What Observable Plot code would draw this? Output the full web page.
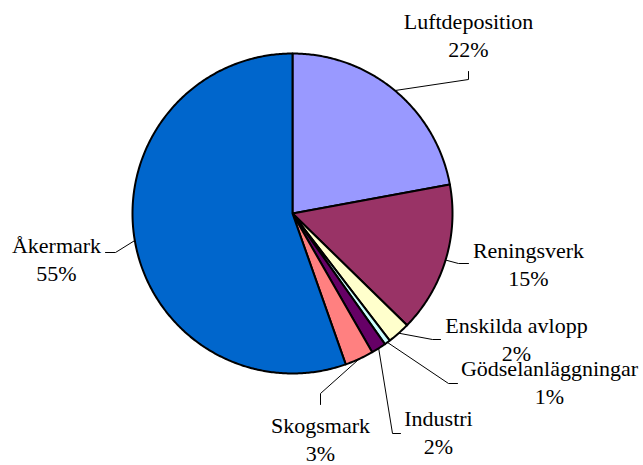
<!DOCTYPE html>
<html>
<head>
<meta charset="utf-8">
<script src="https://cdn.jsdelivr.net/npm/d3@7"></script>
<script src="https://cdn.jsdelivr.net/npm/@observablehq/plot@0.6"></script>
<style>
  html, body { margin: 0; padding: 0; background: #fff; font-family: "Liberation Serif", serif; }
  #chart svg { display: block; }
</style>
</head>
<body>
<div id="chart"></div>
<script>
// ---- data ----
const categories = ["Luftdeposition", "Reningsverk", "Enskilda avlopp", "Gödselanläggningar", "Industri", "Skogsmark", "Åkermark"];
const shares = [22.1, 15.2, 2.3, 0.6, 1.5, 2.9, 55.4];
const percentLabels = ["22%", "15%", "2%", "1%", "2%", "3%", "55%"];
const sliceColors = ["#9999FF", "#993366", "#FFFFCC", "#CCFFFF", "#660066", "#FF8080", "#0066CC"];

// ---- layout (pixels) ----
const W = 643, H = 465;
const CX = 292, CY = 213, R = 160;
const FONT = 22;
// label centre x, first-line baseline y, leader elbow, leader end
const labelLayout = [
  {x: 468, y: 28,  elbow: [468, 79],  end: [468, 71]},
  {x: 528, y: 257, elbow: [458, 263], end: [468, 263]},
  {x: 516, y: 332, elbow: [432, 339], end: [440, 339]},
  {x: 549, y: 375, elbow: [448, 383], end: [457, 383]},
  {x: 438, y: 425, elbow: [392, 433], end: [400, 433]},
  {x: 320, y: 432, elbow: [320, 393], end: [320, 404]},
  {x: 56,  y: 252, elbow: [115, 252], end: [105, 252]}
];
const LINE_GAP = 28.5;

const rows = categories.map((name, i) => ({name, value: shares[i], pct: percentLabels[i]}));
const arcs = d3.pie().sort(null).value(d => d.value)(rows);

const pt = (a, r) => [CX + r * Math.sin(a), CY - r * Math.cos(a)];

// slice polygons
const polys = [];
arcs.forEach(a => {
  const n = Math.max(4, Math.ceil((a.endAngle - a.startAngle) / 0.01));
  polys.push({name: a.data.name, x: CX, y: CY});
  for (let k = 0; k <= n; k++) {
    const ang = a.startAngle + (a.endAngle - a.startAngle) * k / n;
    const [x, y] = pt(ang, R);
    polys.push({name: a.data.name, x, y});
  }
  polys.push({name: a.data.name, x: CX, y: CY});
});

// leader lines
const leaders = [];
arcs.forEach((a, i) => {
  const mid = (a.startAngle + a.endAngle) / 2;
  const [mx, my] = pt(mid, R);
  const L = labelLayout[i];
  leaders.push({name: a.data.name, x: mx, y: my});
  leaders.push({name: a.data.name, x: L.elbow[0], y: L.elbow[1]});
  leaders.push({name: a.data.name, x: L.end[0], y: L.end[1]});
});

// labels: one row per text line; y = first-line baseline (shifted to centre for middle anchor)
const nameLabels = rows.map((d, i) => ({text: d.name, x: labelLayout[i].x, y: labelLayout[i].y - 0.32 * FONT}));
const pctLabels = rows.map((d, i) => ({text: d.pct, x: labelLayout[i].x, y: labelLayout[i].y + LINE_GAP - 0.32 * FONT}));

const textOpts = {x: "x", y: "y", text: "text", fontSize: FONT, fontFamily: "Liberation Serif", fill: "#000",
  textAnchor: "middle", lineAnchor: "middle"};

const chart = Plot.plot({
  width: W,
  height: H,
  margin: 0,
  x: {domain: [0, W], range: [0, W], axis: null},
  y: {domain: [0, H], range: [0, H], axis: null},
  color: {domain: categories, range: sliceColors},
  style: {background: "#fff"},
  marks: [
    Plot.line(leaders, {x: "x", y: "y", z: "name", stroke: "#000", strokeWidth: 1, curve: "linear"}),
    Plot.line(polys, {x: "x", y: "y", z: "name", fill: "name", stroke: "#000", strokeWidth: 2, strokeLinejoin: "round", curve: "linear"}),
    Plot.text(nameLabels, textOpts),
    Plot.text(pctLabels, textOpts)
  ]
});
chart.setAttribute("font-family", "Liberation Serif");
chart.querySelectorAll("text").forEach(t => {
  t.setAttribute("font-family", "Liberation Serif");
  t.style.fontFamily = "Liberation Serif";
});
document.getElementById("chart").appendChild(chart);
</script>
</body>
</html>
